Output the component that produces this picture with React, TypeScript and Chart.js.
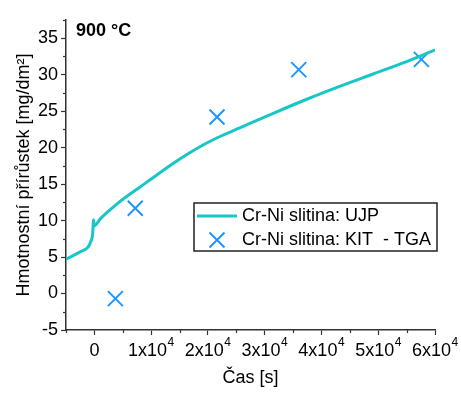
import React, { useEffect, useRef } from "react";
import { Chart, registerables } from "chart.js";

Chart.register(...registerables);

// UJP curve (time [s], mass gain [mg/dm2])
const ujpTime = [-5000, -4000, -3000, -2000, -1500, -1000, -600, -300, -200, -150, -100, 0, 1000, 2500, 4000, 5500, 7500, 10000, 13800, 16800, 19700, 22600, 25600, 31500, 37300, 43200, 49100, 55000, 60000];
const ujpGain = [4.7, 5.1, 5.5, 5.9, 6.1, 6.5, 7.2, 8.2, 9.5, 10.1, 9.7, 9.3, 10.2, 11.3, 12.3, 13.2, 14.3, 15.7, 17.8, 19.3, 20.6, 21.7, 22.7, 24.7, 26.6, 28.4, 30.1, 31.8, 33.4];

// KIT - TGA points
const kitTime = [3700, 7200, 21600, 36000, 57600];
const kitGain = [-0.7, 11.7, 24.2, 30.7, 32.1];

const yTicks = [-5, 0, 5, 10, 15, 20, 25, 30, 35];
const xTicks = [0, 10000, 20000, 30000, 40000, 50000, 60000];
const xTickMantissa = ["0", "1x10", "2x10", "3x10", "4x10", "5x10", "6x10"];
const xTickExponent = ["", "4", "4", "4", "4", "4", "4"];

const legendLabels = ["Cr-Ni slitina: UJP", "Cr-Ni slitina: KIT  - TGA"];
const panelLabel = "900 °C";
const yTitle = "Hmotnostní přírůstek [mg/dm²]";
const xTitle = "Čas [s]";

const LINE_COLOR = "#17c6c6";
const MARK_COLOR = "#1e96ff";
const AXIS_COLOR = "#333333";
const FONT = "'Liberation Sans', Arial, sans-serif";

const overlayPlugin = {
  id: "overlay",
  afterDraw(chart: any) {
    const ctx = chart.ctx;
    const xs = chart.scales.x;
    const ys = chart.scales.y;
    ctx.save();
    // minor ticks
    ctx.strokeStyle = AXIS_COLOR;
    ctx.lineWidth = 1.2;
    const axX = xs.left;
    const axY = ys.bottom;
    for (let v = -2.5; v <= 37.5; v += 5) {
      const py = Math.round(ys.getPixelForValue(v)) + 0.5;
      ctx.beginPath();
      ctx.moveTo(axX - 3, py);
      ctx.lineTo(axX, py);
      ctx.stroke();
    }
    for (let v = -5000; v <= 55000; v += 10000) {
      const px = Math.round(xs.getPixelForValue(v)) + 0.5;
      ctx.beginPath();
      ctx.moveTo(px, axY);
      ctx.lineTo(px, axY + 3);
      ctx.stroke();
    }
    // x tick labels with superscript exponent
    ctx.fillStyle = "#000";
    ctx.textBaseline = "alphabetic";
    ctx.textAlign = "left";
    const baseY = axY + 26;
    xTicks.forEach((v, i) => {
      const px = xs.getPixelForValue(v);
      ctx.font = `18px ${FONT}`;
      const w1 = ctx.measureText(xTickMantissa[i]).width;
      ctx.font = `12px ${FONT}`;
      const w2 = xTickExponent[i] ? ctx.measureText(xTickExponent[i]).width + 0.5 : 0;
      const start = px - (w1 + w2) / 2;
      ctx.font = `18px ${FONT}`;
      ctx.fillText(xTickMantissa[i], start, baseY);
      if (xTickExponent[i]) {
        ctx.font = `12px ${FONT}`;
        ctx.fillText(xTickExponent[i], start + w1 + 0.5, baseY - 10);
      }
    });
    // panel label
    ctx.fillStyle = "#000";
    ctx.font = `bold 18px ${FONT}`;
    ctx.textBaseline = "middle";
    ctx.textAlign = "left";
    ctx.fillText(panelLabel, 76, 31);
    // legend
    const bx = 194, by = 203, bw = 243, bh = 48;
    ctx.fillStyle = "#fff";
    ctx.fillRect(bx, by, bw, bh);
    ctx.strokeStyle = "#222";
    ctx.lineWidth = 1.5;
    ctx.strokeRect(bx, by, bw, bh);
    ctx.strokeStyle = LINE_COLOR;
    ctx.lineWidth = 3;
    ctx.beginPath();
    ctx.moveTo(197, 216);
    ctx.lineTo(237, 216);
    ctx.stroke();
    ctx.strokeStyle = MARK_COLOR;
    ctx.lineWidth = 2;
    const cx = 217, cy = 240, h = 7.5;
    ctx.beginPath();
    ctx.moveTo(cx - h, cy - h);
    ctx.lineTo(cx + h, cy + h);
    ctx.moveTo(cx + h, cy - h);
    ctx.lineTo(cx - h, cy + h);
    ctx.stroke();
    ctx.fillStyle = "#000";
    ctx.font = `18px ${FONT}`;
    ctx.fillText(legendLabels[0], 242, 216);
    ctx.fillText(legendLabels[1], 242, 240);
    ctx.restore();
  },
};

export default function App() {
  const ref = useRef<HTMLCanvasElement | null>(null);
  useEffect(() => {
    if (!ref.current) return;
    const chart = new Chart(ref.current, {
      type: "scatter",
      data: {
        datasets: [
          {
            label: legendLabels[0],
            data: ujpTime.map((t, i) => ({ x: t, y: ujpGain[i] })),
            showLine: true,
            borderColor: LINE_COLOR,
            backgroundColor: LINE_COLOR,
            borderWidth: 3,
            pointRadius: 0,
            cubicInterpolationMode: "monotone",
          },
          {
            label: legendLabels[1],
            data: kitTime.map((t, i) => ({ x: t, y: kitGain[i] })),
            showLine: false,
            pointStyle: "crossRot",
            pointRadius: 10.6,
            pointBorderWidth: 2,
            borderColor: MARK_COLOR,
            backgroundColor: MARK_COLOR,
          },
        ],
      },
      options: {
        animation: false,
        responsive: true,
        maintainAspectRatio: false,
        layout: { padding: { top: 20, right: 26, left: 0, bottom: 0 } },
        plugins: { legend: { display: false }, tooltip: { enabled: false } },
        scales: {
          x: {
            type: "linear",
            min: -5000,
            max: 60000,
            afterFit: (s: any) => { s.height = 64; },
            afterBuildTicks: (s: any) => { s.ticks = xTicks.map((v) => ({ value: v })); },
            grid: { drawOnChartArea: false, drawTicks: true, tickLength: 5, color: AXIS_COLOR, tickWidth: 1.2 },
            border: { display: true, color: AXIS_COLOR, width: 1.5 },
            ticks: { display: false },
            title: { display: true, text: xTitle, color: "#000", font: { family: FONT, size: 18 }, padding: { top: 0, bottom: 5 } },
          },
          y: {
            type: "linear",
            min: -5,
            max: 37.5,
            afterFit: (s: any) => { s.width = 66; },
            afterBuildTicks: (s: any) => { s.ticks = yTicks.map((v) => ({ value: v })); },
            grid: { drawOnChartArea: false, drawTicks: true, tickLength: 5, color: AXIS_COLOR, tickWidth: 1.2 },
            border: { display: true, color: AXIS_COLOR, width: 1.5 },
            ticks: { color: "#000", padding: 3, autoSkip: false, font: { family: FONT, size: 18 } },
            title: { display: true, text: yTitle, color: "#000", font: { family: FONT, size: 18 }, padding: { top: 13, bottom: 0 } },
          },
        },
      },
      plugins: [overlayPlugin],
    });
    return () => chart.destroy();
  }, []);
  return (
    <div style={{ position: "fixed", left: 0, top: 0, width: 461, height: 394, background: "#fff" }}>
      <canvas ref={ref} />
    </div>
  );
}
